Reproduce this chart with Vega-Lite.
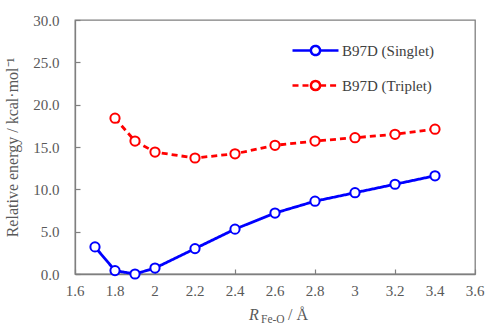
{
  "$schema": "https://vega.github.io/schema/vega-lite/v6.json",
  "width": 400,
  "height": 254,
  "autosize": "none",
  "padding": {"left": 75, "top": 20, "right": 13, "bottom": 55},
  "config": {
    "font": "Liberation Serif",
    "view": {"stroke": "#7f7f7f", "strokeWidth": 1.3},
    "axis": {
      "grid": false,
      "domainColor": "#7f7f7f",
      "domainWidth": 1.3,
      "tickColor": "#7f7f7f",
      "tickSize": -5,
      "tickWidth": 1.2,
      "labelFont": "Liberation Serif",
      "labelFontSize": 15,
      "labelColor": "#595959",
      "labelOverlap": false,
      "titleFont": "Liberation Serif",
      "titleFontWeight": "normal",
      "titleColor": "#595959"
    },
    "legend": {
      "labelFont": "Liberation Serif",
      "labelFontSize": 15,
      "labelColor": "#404040"
    }
  },
  "datasets": {
    "energies": [
      {"r": 1.7, "e": 3.2, "s": "B97D (Singlet)"},
      {"r": 1.8, "e": 0.4, "s": "B97D (Singlet)"},
      {"r": 1.9, "e": 0.0, "s": "B97D (Singlet)"},
      {"r": 2.0, "e": 0.7, "s": "B97D (Singlet)"},
      {"r": 2.2, "e": 3.0, "s": "B97D (Singlet)"},
      {"r": 2.4, "e": 5.3, "s": "B97D (Singlet)"},
      {"r": 2.6, "e": 7.2, "s": "B97D (Singlet)"},
      {"r": 2.8, "e": 8.6, "s": "B97D (Singlet)"},
      {"r": 3.0, "e": 9.6, "s": "B97D (Singlet)"},
      {"r": 3.2, "e": 10.6, "s": "B97D (Singlet)"},
      {"r": 3.4, "e": 11.6, "s": "B97D (Singlet)"},
      {"r": 1.8, "e": 18.4, "s": "B97D (Triplet)"},
      {"r": 1.9, "e": 15.7, "s": "B97D (Triplet)"},
      {"r": 2.0, "e": 14.4, "s": "B97D (Triplet)"},
      {"r": 2.2, "e": 13.7, "s": "B97D (Triplet)"},
      {"r": 2.4, "e": 14.2, "s": "B97D (Triplet)"},
      {"r": 2.6, "e": 15.2, "s": "B97D (Triplet)"},
      {"r": 2.8, "e": 15.7, "s": "B97D (Triplet)"},
      {"r": 3.0, "e": 16.1, "s": "B97D (Triplet)"},
      {"r": 3.2, "e": 16.5, "s": "B97D (Triplet)"},
      {"r": 3.4, "e": 17.1, "s": "B97D (Triplet)"}
    ],
    "xticks": [
      {"v": 1.6, "t": "1.6"},
      {"v": 1.8, "t": "1.8"},
      {"v": 2.0, "t": "2"},
      {"v": 2.2, "t": "2.2"},
      {"v": 2.4, "t": "2.4"},
      {"v": 2.6, "t": "2.6"},
      {"v": 2.8, "t": "2.8"},
      {"v": 3.0, "t": "3"},
      {"v": 3.2, "t": "3.2"},
      {"v": 3.4, "t": "3.4"},
      {"v": 3.6, "t": "3.6"}
    ]
  },
  "layer": [
    {
      "data": {"name": "energies"},
      "mark": {"type": "line", "strokeWidth": 2.8},
      "encoding": {
        "x": {
          "field": "r",
          "type": "quantitative",
          "scale": {"domain": [1.6, 3.6], "nice": false, "zero": false},
          "axis": {
            "title": null,
            "values": [1.6, 1.8, 2.0, 2.2, 2.4, 2.6, 2.8, 3.0, 3.2, 3.4, 3.6],
            "labels": false
          }
        },
        "y": {
          "field": "e",
          "type": "quantitative",
          "scale": {"domain": [0, 30], "nice": false},
          "axis": {
            "title": "Relative energy / kcal·mol⁻¹",
            "titleFontSize": 16,
            "titlePadding": 12,
            "values": [0, 5, 10, 15, 20, 25, 30],
            "format": ".1f",
            "labelPadding": 21,
            "labelFlush": false,
            "labelOverlap": false
          }
        },
        "color": {
          "field": "s",
          "type": "nominal",
          "scale": {"domain": ["B97D (Singlet)", "B97D (Triplet)"], "range": ["#0000FF", "#FF0000"]},
          "legend": {
            "title": null,
            "orient": "none",
            "legendX": 216,
            "legendY": 6,
            "symbolType": "M-1,0L-0.2,0M0.2,0L1,0M0.2,0A0.2,0.2,0,0,1,0.1414,0.1414M0.1414,0.1414A0.2,0.2,0,0,1,0,0.2M0,0.2A0.2,0.2,0,0,1,-0.1414,0.1414M-0.1414,0.1414A0.2,0.2,0,0,1,-0.2,0M-0.2,0A0.2,0.2,0,0,1,-0.1414,-0.1414M-0.1414,-0.1414A0.2,0.2,0,0,1,0,-0.2M0,-0.2A0.2,0.2,0,0,1,0.1414,-0.1414M0.1414,-0.1414A0.2,0.2,0,0,1,0.2,0",
            "symbolSize": 2116,
            "symbolStrokeWidth": 2.5,
            "symbolFillColor": "white",
            "rowPadding": -22,
            "labelOffset": 2
          }
        },
        "strokeDash": {
          "field": "s",
          "type": "nominal",
          "scale": {"domain": ["B97D (Singlet)", "B97D (Triplet)"], "range": [[1, 0], [6, 4]]},
          "legend": null
        }
      }
    },
    {
      "data": {"name": "energies"},
      "mark": {"type": "point", "filled": false, "fill": "white", "fillOpacity": 1, "opacity": 1, "size": 85, "strokeWidth": 2},
      "encoding": {
        "x": {"field": "r", "type": "quantitative"},
        "y": {"field": "e", "type": "quantitative"},
        "color": {"field": "s", "type": "nominal"}
      }
    },
    {
      "data": {"name": "xticks"},
      "mark": {"type": "text", "font": "Liberation Serif", "fontSize": 15, "align": "center", "baseline": "middle", "color": "#595959", "clip": false},
      "encoding": {
        "x": {"field": "v", "type": "quantitative"},
        "y": {"datum": -2.05},
        "text": {"field": "t"}
      }
    },
    {
      "data": {"values": [{"part": "R"}]},
      "mark": {"type": "text", "font": "Liberation Serif", "fontStyle": "italic", "fontSize": 16, "align": "left", "baseline": "alphabetic", "color": "#595959"},
      "encoding": {
        "x": {"datum": 2.47},
        "y": {"datum": -5.43},
        "text": {"field": "part"}
      }
    },
    {
      "data": {"values": [{"part": "Fe-O"}]},
      "mark": {"type": "text", "font": "Liberation Serif", "fontSize": 11.5, "align": "left", "baseline": "alphabetic", "color": "#595959"},
      "encoding": {
        "x": {"datum": 2.53},
        "y": {"datum": -5.79},
        "text": {"field": "part"}
      }
    },
    {
      "data": {"values": [{"part": "/ Å"}]},
      "mark": {"type": "text", "font": "Liberation Serif", "fontSize": 16, "align": "left", "baseline": "alphabetic", "color": "#595959"},
      "encoding": {
        "x": {"datum": 2.665},
        "y": {"datum": -5.43},
        "text": {"field": "part"}
      }
    }
  ]
}
